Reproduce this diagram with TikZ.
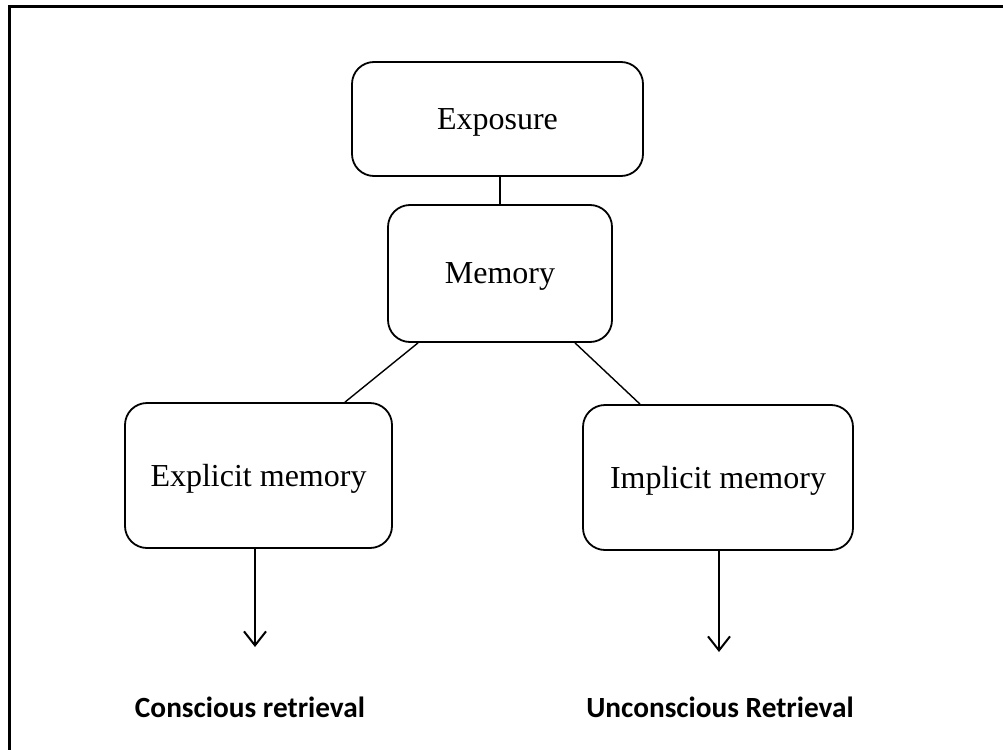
\documentclass[tikz,border=0pt]{standalone}
\usepackage{fontspec}
\setmainfont{Liberation Serif}
\newfontfamily\lblfont{Carlito}
\usetikzlibrary{arrows.meta,calc}
\begin{document}
\begin{tikzpicture}[x=1pt,y=-1pt,
  boxnode/.style={draw,line width=1.8pt,rounded corners=22pt,rectangle,inner sep=0pt,text depth=0pt,font=\fontsize{32}{38}\selectfont},
  link/.style={line width=1.4pt},
  arrowline/.style={line width=2pt,-{Straight Barb[length=14pt,width=22pt,line width=2pt]}},
  lbl/.style={font=\lblfont\bfseries\fontsize{29.3}{34}\selectfont,inner sep=0pt}]
\useasboundingbox (0,0) rectangle (1003,749);
\clip (0,0) rectangle (1003,749);
\draw[line width=3pt] (9.5,7) rectangle (1020,770);
\node[boxnode,minimum width=291pt,minimum height=114pt] (exposure) at (497.5,119) {Exposure};
\node[boxnode,minimum width=224pt,minimum height=137pt] (memory) at (500,273.5) {Memory};
\node[boxnode,minimum width=267pt,minimum height=145pt] (explicit) at (258.5,475.5) {Explicit memory};
\node[boxnode,minimum width=270pt,minimum height=145pt] (implicit) at (718,477.5) {Implicit memory};
\node[lbl] (conscious) at (250,707) {Conscious retrieval};
\node[lbl] (unconscious) at (720,707) {Unconscious Retrieval};
\coordinate (a1) at (255,647);
\coordinate (a2) at (719,652);
\draw[link] (memory.north) -- (memory.north |- exposure.south);
\draw[link] ($(memory.south)+(-82,0)$) -- ($(explicit.north)+(86.5,0)$);
\draw[link] ($(memory.south)+(75,0)$) -- ($(implicit.north)+(-78,0)$);
\draw[arrowline] (explicit.south -| a1) -- (a1);
\draw[arrowline] (implicit.south -| a2) -- (a2);
\end{tikzpicture}
\end{document}
